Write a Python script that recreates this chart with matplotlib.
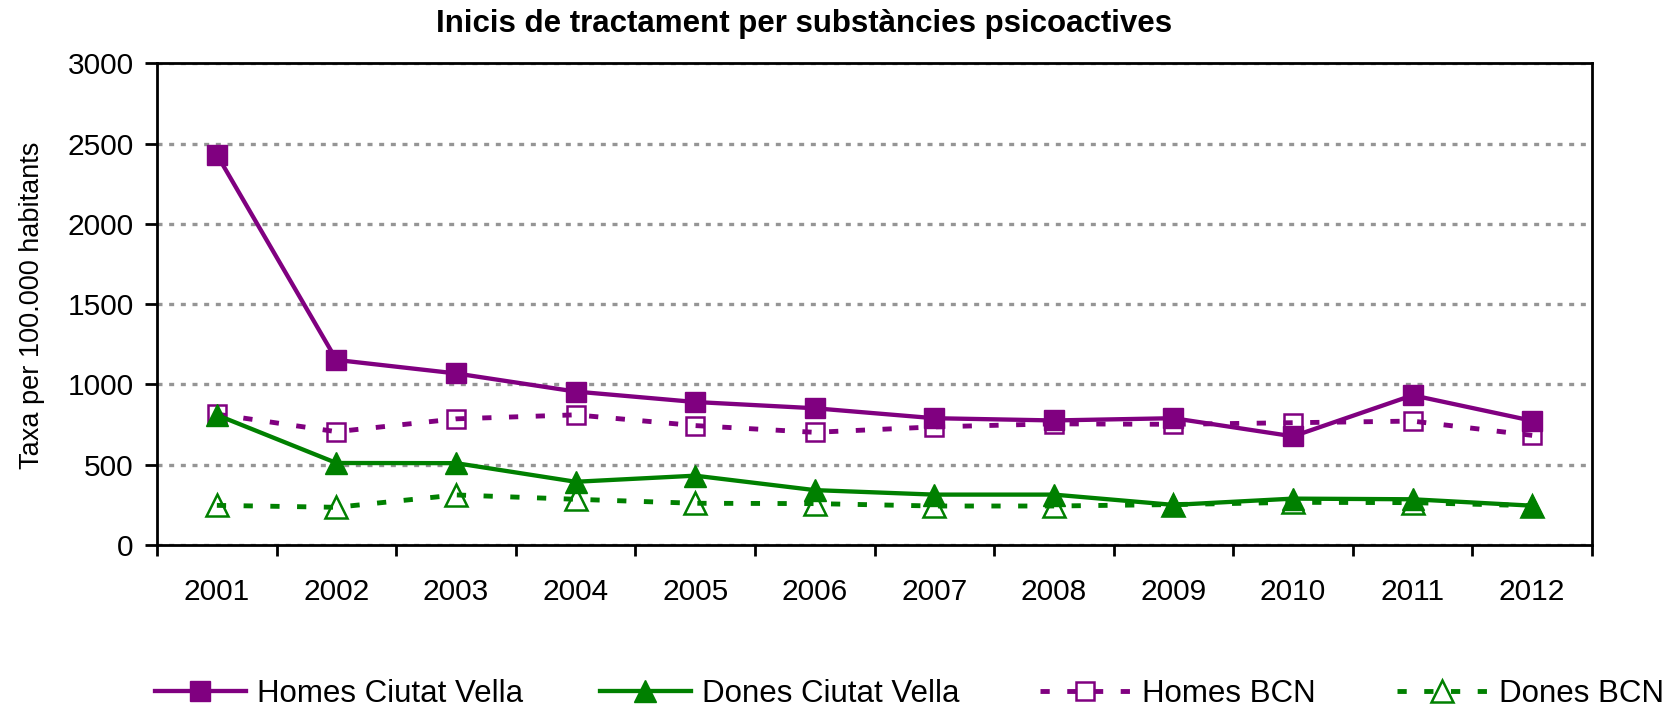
import matplotlib
matplotlib.use('Agg')
import matplotlib.pyplot as plt
from matplotlib.lines import Line2D

plt.rcParams['font.family'] = ['Liberation Sans', 'DejaVu Sans']

# Data
years = ['2001', '2002', '2003', '2004', '2005', '2006',
         '2007', '2008', '2009', '2010', '2011', '2012']
homes_cv = [2432, 1153, 1069, 956, 891, 852, 790, 776, 790, 677, 933, 774]
dones_cv = [810, 511, 510, 394, 432, 342, 314, 314, 250, 289, 285, 245]
homes_bcn = [815, 706, 786, 811, 744, 702, 736, 755, 752, 762, 772, 683]
dones_bcn = [247, 235, 312, 285, 260, 258, 243, 243, 252, 266, 264, 245]

purple = '#800080'
green = '#008000'

fig = plt.figure(figsize=(16.8, 7.13), dpi=100)
ax = fig.add_axes([0.0935, 0.2356, 0.8541, 0.6754])

x = range(1, len(years) + 1)
dot = (0, (1.9, 3.6))

solid_kw = dict(lw=3.1)
dot_kw = dict(lw=3.5, linestyle=dot, dash_capstyle='butt')
sq_full = dict(marker='s', ms=14, mew=1)
tri_full = dict(marker='^', ms=16.5, mew=1)
sq_open = dict(marker='s', ms=13, mfc='none', mew=1.8)
tri_open = dict(marker='^', ms=15.5, mfc='none', mew=1.8)

# BCN series (dotted, hollow markers)
ax.plot(x, homes_bcn, color=purple, mec=purple, zorder=3, **dot_kw, **sq_open)
ax.plot(x, dones_bcn, color=green, mec=green, zorder=3, **dot_kw, **tri_open)
# Ciutat Vella series (solid, filled markers)
ax.plot(x, homes_cv, color=purple, mfc=purple, mec=purple, zorder=4,
        **solid_kw, **sq_full)
ax.plot(x, dones_cv, color=green, mfc=green, mec=green, zorder=4,
        **solid_kw, **tri_full)

ax.set_xlim(0.5, len(years) + 0.5)
ax.set_ylim(0, 3000)
ax.set_yticks(range(0, 3001, 500))
ax.set_xticks([i + 0.5 for i in range(len(years) + 1)])
ax.set_xticklabels([])
ax.set_xticks(list(x), minor=True)
ax.set_xticklabels(years, minor=True)

ax.tick_params(axis='y', direction='out', length=8.4, width=2,
               labelsize=21.5, pad=8.5)
ax.tick_params(axis='x', which='major', direction='out', length=8,
               width=2)
ax.tick_params(axis='x', which='minor', length=0, labelsize=21.5, pad=24)

for s in ax.spines.values():
    s.set_linewidth(2)
    s.set_color('black')

ax.set_axisbelow(True)
ax.yaxis.grid(True, color='#959595', linewidth=2.4,
              linestyle=(0, (1.5, 2.0)), dash_capstyle='butt')

fig.text(0.4786, 0.966, 'Inicis de tractament per substàncies psicoactives',
         ha='center', va='center', fontsize=22.5, fontweight='bold')
fig.text(0.019, 0.572, 'Taxa per 100.000 habitants', rotation=90,
         ha='center', va='center', fontsize=19.5)

# Legend: four entries along the bottom
handles = [
    Line2D([], [], color=purple, mfc=purple, mec=purple, **solid_kw, **sq_full),
    Line2D([], [], color=green, mfc=green, mec=green, **solid_kw, **tri_full),
    Line2D([], [], color=purple, mec=purple, **dot_kw, **sq_open),
    Line2D([], [], color=green, mec=green, **dot_kw, **tri_open),
]
labels = ['Homes Ciutat Vella', 'Dones Ciutat Vella', 'Homes BCN', 'Dones BCN']
starts = [155, 600, 1040, 1397]
for h, lab, xs in zip(handles, labels, starts):
    fig.legend([h], [lab], loc='center left',
               bbox_to_anchor=(xs / 1680, 1 - 694 / 713),
               frameon=False, fontsize=22.5, handlelength=2.9,
               handletextpad=0.35, borderpad=0, borderaxespad=0,
               numpoints=1)

fig.savefig('out.png', dpi=100)
